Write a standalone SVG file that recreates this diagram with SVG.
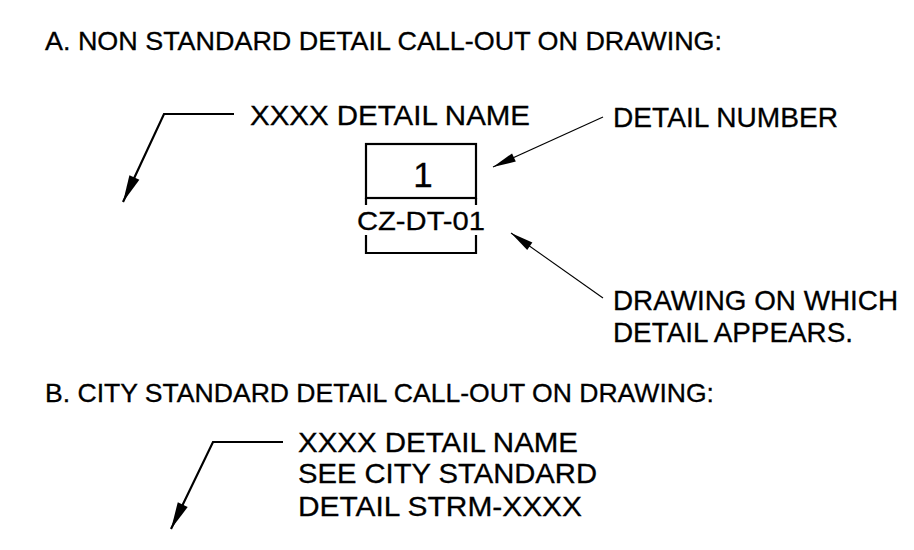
<svg xmlns="http://www.w3.org/2000/svg" width="914" height="550" viewBox="0 0 914 550">
<style>
text{font-family:"Liberation Sans",Arial,sans-serif;fill:#000;stroke:#000;stroke-width:0.3}
.t{font-size:25px}
.l{font-size:28px}
.thick{stroke:#000;stroke-width:2.2;fill:none}
.thin{stroke:#000;stroke-width:1.1;fill:none}
</style>
<defs>
<marker id="ah" markerUnits="userSpaceOnUse" markerWidth="30" markerHeight="14" viewBox="-28 -7 30 14" refX="0" refY="0" orient="auto">
<path d="M0,0 L-27,-5.5 L-27,5.5 Z" fill="#000"/>
</marker>
<marker id="ahs" markerUnits="userSpaceOnUse" markerWidth="26" markerHeight="12" viewBox="-25 -6 26 12" refX="0" refY="0" orient="auto">
<path d="M0,0 L-23,-4.5 L-23,4.5 Z" fill="#000"/>
</marker>
</defs>
<rect width="914" height="550" fill="#fff"/>
<g id="titleA"><text class="t" x="45" y="50" textLength="677" lengthAdjust="spacingAndGlyphs">A. NON STANDARD DETAIL CALL-OUT ON DRAWING:</text></g>
<g id="nameA"><text class="l" x="250" y="125" textLength="280" lengthAdjust="spacingAndGlyphs">XXXX DETAIL NAME</text></g>
<g id="calloutA">
<rect x="366" y="144" width="110" height="54" class="thick"/>
<text x="423" y="187" font-size="35" text-anchor="middle">1</text>
<path d="M366,198 V205 M476,198 V205" class="thick"/>
<text x="357" y="230" font-size="26" textLength="128" lengthAdjust="spacingAndGlyphs">CZ-DT-01</text>
<path d="M366,235 V253 H476 V235" class="thick"/>
</g>
<g id="detailNumber"><text class="l" x="613" y="127" textLength="225" lengthAdjust="spacingAndGlyphs">DETAIL NUMBER</text></g>
<g id="drawingOn">
<text class="l" x="613" y="310" textLength="285" lengthAdjust="spacingAndGlyphs">DRAWING ON WHICH</text>
<text class="l" x="613" y="342" textLength="240" lengthAdjust="spacingAndGlyphs">DETAIL APPEARS.</text>
</g>
<g id="titleB"><text class="t" x="45" y="402" textLength="669" lengthAdjust="spacingAndGlyphs">B. CITY STANDARD DETAIL CALL-OUT ON DRAWING:</text></g>
<g id="nameB">
<text class="l" x="298" y="452" textLength="280" lengthAdjust="spacingAndGlyphs">XXXX DETAIL NAME</text>
<text class="l" x="298" y="483" textLength="299" lengthAdjust="spacingAndGlyphs">SEE CITY STANDARD</text>
<text class="l" x="298" y="516" textLength="284" lengthAdjust="spacingAndGlyphs">DETAIL STRM-XXXX</text>
</g>
<g id="connectors">
<path d="M234,114 L164,114 L123,202" class="thick" marker-end="url(#ah)"/>
<path d="M283,442 L213,442 L171,529" class="thick" marker-end="url(#ah)"/>
<path d="M603,117 L493,167" class="thin" marker-end="url(#ahs)"/>
<path d="M603,298 L511,233" class="thin" marker-end="url(#ahs)"/>
</g>
</svg>
